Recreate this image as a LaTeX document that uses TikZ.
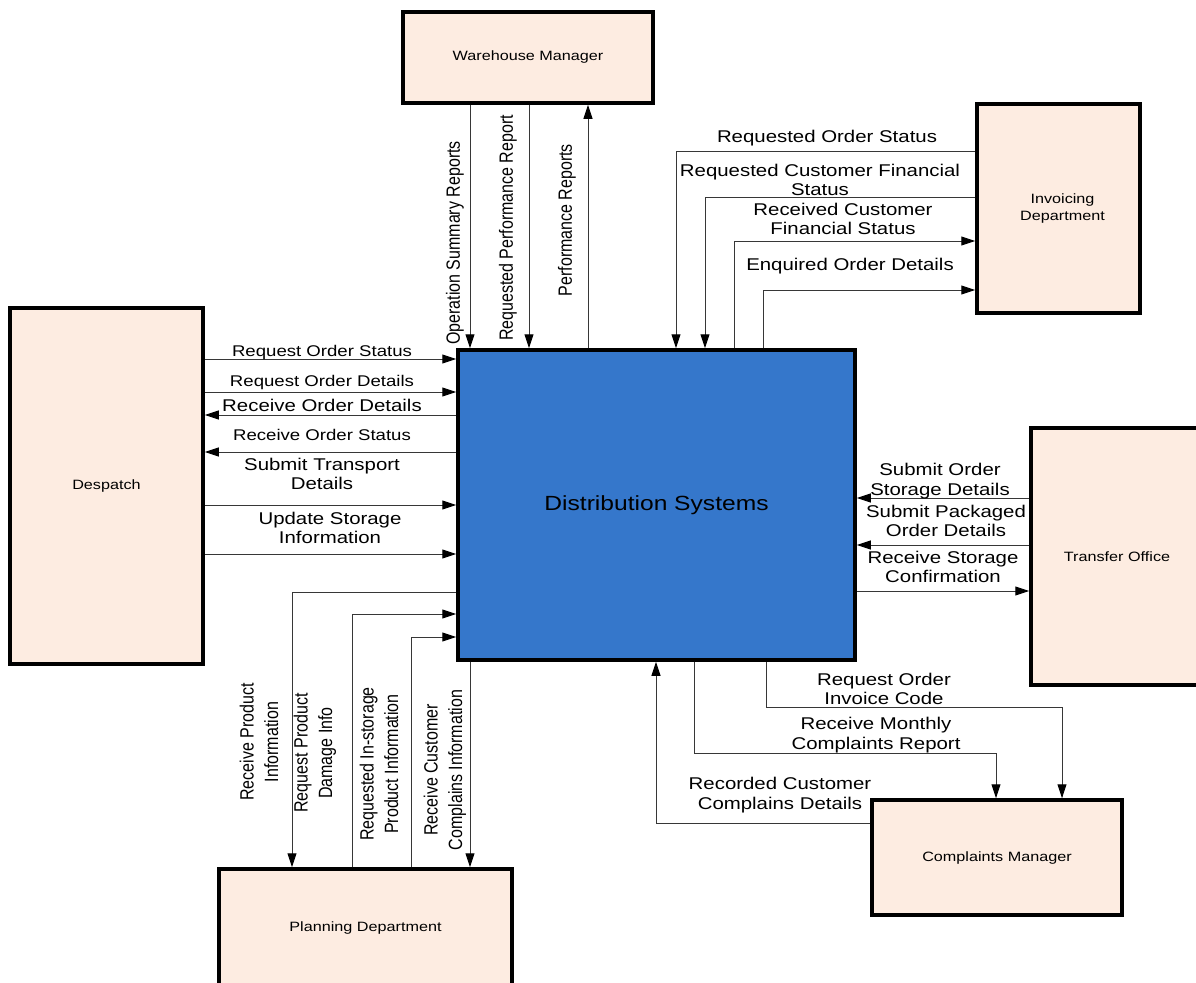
\documentclass[tikz,border=0pt]{standalone}
\usepackage{fontspec}
\setmainfont{Liberation Sans}[FakeStretch=1.2]
\newfontfamily\vfont{Liberation Sans}
\usetikzlibrary{arrows.meta}
\definecolor{boxfill}{RGB}{253,236,225}
\definecolor{dsblue}{RGB}{53,119,203}
\definecolor{flow}{RGB}{55,55,55}
% upright-set text for the rotated flow labels, widened across its lines
\newcommand{\vtext}[1]{\scalebox{1}[1.2]{\begin{tabular}{@{}c@{}}#1\end{tabular}}}
\tikzset{
  ent/.style={draw=black, line width=3.5pt, fill=boxfill, inner sep=0pt,
    font=\fontsize{13.5}{16.5}\selectfont, align=center},
  arr/.style={draw=flow, line width=1pt,
    -{Triangle[length=14pt,width=9pt,color=black,fill=black]}},
  lbl/.style={font=\fontsize{17}{19.5}\selectfont, align=center, inner sep=0pt},
  slbl/.style={font=\fontsize{15.5}{18}\selectfont, align=center, inner sep=0pt},
  vlbl/.style={font=\vfont\fontsize{16}{20.5}\selectfont, inner sep=0pt, rotate=90},
}
\begin{document}
\begin{tikzpicture}[x=1pt, y=-1pt]
\clip (0,0) rectangle (1196,982);
\fill[white] (0,0) rectangle (1196,982);

% external entities and the central process
\node[ent, minimum width=250pt, minimum height=91pt]  (wm)   at (528,57.5)    {Warehouse Manager};
\node[ent, minimum width=163pt, minimum height=209pt] (inv)  at (1058.5,208.5) {\hspace*{8pt}Invoicing\\\hspace*{8pt}Department};
\node[ent, minimum width=193pt, minimum height=356pt] (desp) at (106.5,486)    {Despatch};
\node[ent, minimum width=172pt, minimum height=257pt] (to)   at (1117,556.5)   {Transfer Office};
\node[ent, minimum width=250pt, minimum height=115pt] (cm)   at (997,857.5)    {Complaints Manager};
\node[ent, minimum width=293pt, minimum height=118pt] (pd)   at (365.5,928)    {Planning Department};
\node[ent, fill=dsblue, minimum width=397pt, minimum height=310pt,
      font=\fontsize{20.5}{24}\selectfont] (ds) at (656.5,505) {Distribution Systems};

% Warehouse Manager flows
\draw[arr] (wm.south -| 470,0) -- (ds.north -| 470,0);
\draw[arr] (wm.south -| 529,0) -- (ds.north -| 529,0);
\draw[arr] (ds.north -| 588,0) -- (wm.south -| 588,0);
\node[vlbl] (w1) at (455,243) {\vtext{Operation Summary Reports}};
\node[vlbl] (w2) at (508,228) {\vtext{Requested Performance Report}};
\node[vlbl] (w3) at (567,220) {\vtext{Performance Reports}};

% Invoicing Department flows
\draw[arr] (inv.west |- 0,151) -| (ds.north -| 676,0);
\draw[arr] (inv.west |- 0,197) -| (ds.north -| 705,0);
\draw[arr] (ds.north -| 734,0) |- (inv.west |- 0,241);
\draw[arr] (ds.north -| 763,0) |- (inv.west |- 0,290);
\node[lbl] (i1) at (827,138) {Requested Order Status};
\node[lbl] (i2) at (820,180) {Requested Customer Financial\\Status};
\node[lbl] (i3) at (843,219) {Received Customer\\Financial Status};
\node[lbl] (i4) at (850,266) {Enquired Order Details};

% Despatch flows
\draw[arr] (desp.east |- 0,359) -- (ds.west |- 0,359);
\draw[arr] (desp.east |- 0,392) -- (ds.west |- 0,392);
\draw[arr] (ds.west |- 0,415) -- (desp.east |- 0,415);
\draw[arr] (ds.west |- 0,452) -- (desp.east |- 0,452);
\draw[arr] (desp.east |- 0,505) -- (ds.west |- 0,505);
\draw[arr] (desp.east |- 0,554) -- (ds.west |- 0,554);
\node[slbl] (d1) at (322,352) {Request Order Status};
\node[slbl] (d2) at (322,382) {Request Order Details};
\node[lbl]  (d3) at (322,405) {Receive Order Details};
\node[slbl] (d4) at (322,435) {Receive Order Status};
\node[lbl]  (d5) at (322,474) {Submit Transport\\Details};
\node[lbl]  (d6) at (330,528) {Update Storage\\Information};

% Transfer Office flows
\draw[arr] (to.west |- 0,498) -- (ds.east |- 0,498);
\draw[arr] (to.west |- 0,545) -- (ds.east |- 0,545);
\draw[arr] (ds.east |- 0,591) -- (to.west |- 0,591);
\node[lbl] (t1) at (940,481) {Submit Order\\Storage Details};
\node[lbl] (t2) at (946,521) {Submit Packaged\\Order Details};
\node[lbl] (t3) at (943,567) {Receive Storage\\Confirmation};

% Planning Department flows
\draw[arr] (ds.west |- 0,592) -| (pd.north -| 292,0);
\draw[arr] (pd.north -| 352,0) |- (ds.west |- 0,614);
\draw[arr] (pd.north -| 411,0) |- (ds.west |- 0,637);
\draw[arr] (ds.south -| 470,0) -- (pd.north -| 470,0);
\node[vlbl] (p1) at (261,742) {\vtext{Receive Product\\Information}};
\node[vlbl] (p2) at (315,753) {\vtext{Request Product\\Damage Info}};
\node[vlbl] (p3) at (381,764) {\vtext{Requested In-storage\\Product Information}};
\node[vlbl] (p4) at (445,770) {\vtext{Receive Customer\\Complains Information}};

% Complaints Manager flows
\draw[arr] (cm.west |- 0,823) -| (ds.south -| 656,0);
\draw[arr] (ds.south -| 694,0) -- (694,753) -- (996,753) -- (cm.north -| 996,0);
\draw[arr] (ds.south -| 766,0) -- (766,707) -- (1062,707) -- (cm.north -| 1062,0);
\node[lbl] (c1) at (780,795) {Recorded Customer\\Complains Details};
\node[lbl] (c2) at (876,735) {Receive Monthly\\Complaints Report};
\node[lbl] (c3) at (884,689) {Request Order\\Invoice Code};
\end{tikzpicture}
\end{document}
